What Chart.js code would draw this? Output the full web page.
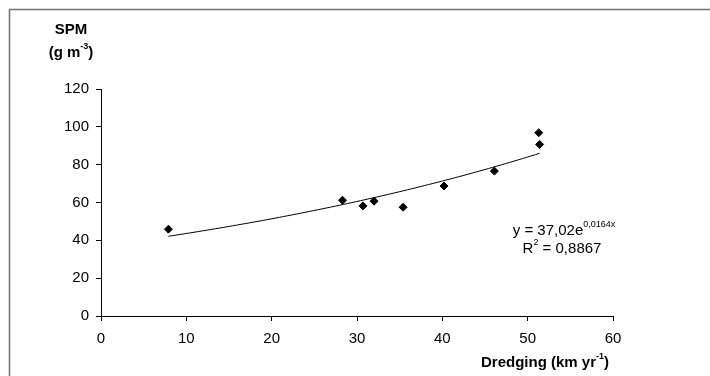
<!DOCTYPE html>
<html>
<head>
<meta charset="utf-8">
<script src="https://cdn.jsdelivr.net/npm/chart.js@4.4.1/dist/chart.umd.min.js"></script>
<style>
  html, body { margin: 0; padding: 0; background: #fff; overflow: hidden; }
  #wrap { position: relative; width: 710px; height: 376px; }
</style>
</head>
<body>
<div id="wrap"><canvas id="spmChart"></canvas></div>
<script>
// Dredging intensity vs suspended particulate matter
const dredging = [7.9, 28.3, 30.7, 32.0, 35.4, 40.2, 46.1, 51.3, 51.4];
const spm = [45.9, 61.2, 58.2, 60.7, 57.5, 68.7, 76.6, 96.9, 90.7];
const xTicks = [0, 10, 20, 30, 40, 50, 60];
const yTicks = [0, 20, 40, 60, 80, 100, 120];

// exponential fit y = a * e^(b x)
const fitA = 37.02;
const fitB = 0.0164;
const fitR2 = 0.8867;

const FONT = "'Liberation Sans', Arial, sans-serif";

const points = dredging.map((x, i) => ({ x, y: spm[i] }));

// trend curve over the data range
const xMin = Math.min(...dredging);
const xMax = Math.max(...dredging);
const trend = [];
for (let x = xMin; x < xMax; x += 0.5) trend.push({ x, y: fitA * Math.exp(fitB * x) });
trend.push({ x: xMax, y: fitA * Math.exp(fitB * xMax) });

const comma = (v, d) => v.toFixed(d).replace('.', ',');

// text with superscript pieces, centred on cx
function richText(ctx, parts, cx, cy, size, bold) {
  const w = bold ? 'bold ' : '';
  let total = 0;
  parts.forEach(([t, sup]) => {
    ctx.font = w + (sup ? Math.round(size * 0.62) : size) + 'px ' + FONT;
    total += ctx.measureText(t).width;
  });
  let x = cx - total / 2;
  ctx.textAlign = 'left';
  ctx.textBaseline = 'middle';
  parts.forEach(([t, sup]) => {
    ctx.font = w + (sup ? Math.round(size * 0.62) : size) + 'px ' + FONT;
    ctx.fillText(t, x, sup ? cy - size * 0.4 : cy);
    x += ctx.measureText(t).width;
  });
}

const decorations = {
  id: 'decorations',
  beforeDraw(chart) {
    const ctx = chart.ctx;
    ctx.save();
    ctx.strokeStyle = '#707070';
    ctx.lineWidth = 1.5;
    ctx.strokeRect(9.5, 9.5, 1000, 600);
    ctx.restore();
  },
  afterDraw(chart) {
    const ctx = chart.ctx;
    ctx.save();
    ctx.fillStyle = '#000';
    richText(ctx, [['SPM']], 71, 30, 15, true);
    richText(ctx, [['(g m'], ['-3', true], [')']], 71, 53, 15, true);
    richText(ctx, [['Dredging (km yr'], ['-1', true], [')']], 545, 363, 15, true);
    richText(ctx, [['y = ' + comma(fitA, 2) + 'e'], [comma(fitB, 4) + 'x', true]], 564, 231, 15, false);
    richText(ctx, [['R'], ['2', true], [' = ' + comma(fitR2, 4)]], 562, 249, 15, false);
    ctx.restore();
  }
};

const axisStyle = {
  border: { display: true, color: '#000', width: 1 },
  grid: { drawOnChartArea: false, drawTicks: true, tickLength: 5, tickColor: '#000' },
};

new Chart(document.getElementById('spmChart'), {
  type: 'scatter',
  data: {
    datasets: [
      {
        data: points,
        pointStyle: 'rectRot',
        pointRadius: 4,
        borderWidth: 1,
        backgroundColor: '#000',
        borderColor: '#000',
        order: 1,
      },
      {
        type: 'line',
        data: trend,
        borderColor: '#000',
        borderWidth: 1,
        pointRadius: 0,
        fill: false,
        tension: 0,
        order: 2,
      },
    ],
  },
  options: {
    responsive: true,
    maintainAspectRatio: false,
    animation: false,
    layout: { padding: { left: 0, top: 89, right: 97, bottom: 0 } },
    plugins: { legend: { display: false }, tooltip: { enabled: false } },
    scales: {
      x: {
        type: 'linear',
        min: xTicks[0],
        max: xTicks[xTicks.length - 1],
        ...axisStyle,
        afterBuildTicks: s => { s.ticks = xTicks.map(v => ({ value: v })); },
        afterFit: s => { s.height = 60; },
        ticks: { color: '#000', padding: 9, font: { family: FONT, size: 15 } },
      },
      y: {
        type: 'linear',
        min: yTicks[0],
        max: yTicks[yTicks.length - 1],
        ...axisStyle,
        afterBuildTicks: s => { s.ticks = yTicks.map(v => ({ value: v })); },
        afterFit: s => { s.width = 101; },
        ticks: { color: '#000', padding: 7, font: { family: FONT, size: 15 } },
      },
    },
  },
  plugins: [decorations],
});
</script>
</body>
</html>
